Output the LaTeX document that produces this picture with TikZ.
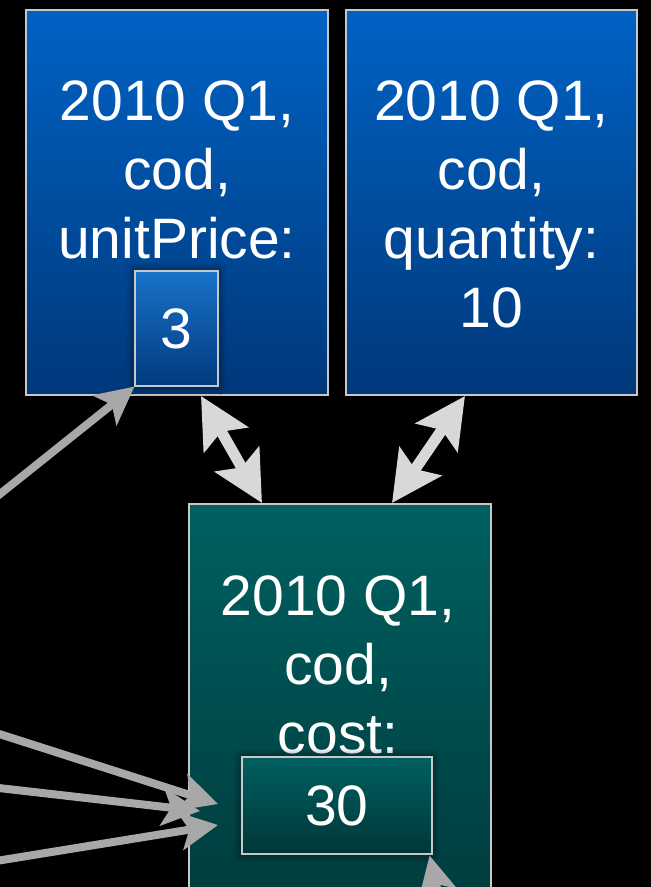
\documentclass[tikz,border=0pt]{standalone}
\usepackage{fontspec}
\setmainfont{Liberation Sans}
\usetikzlibrary{arrows.meta,shadows.blur}

\definecolor{bluetop}{RGB}{0,98,196}
\definecolor{bluebot}{RGB}{0,56,122}
\definecolor{tealtop}{RGB}{0,96,96}
\definecolor{tealbot}{RGB}{0,60,62}
\definecolor{edgegray}{RGB}{200,200,200}
\definecolor{linkgray}{RGB}{168,168,168}
\definecolor{pairgray}{RGB}{216,216,216}

\tikzset{
  cell/.style={draw=edgegray, line width=1.3pt, rectangle, inner sep=0pt},
  bluecell/.style={cell, top color=bluetop, bottom color=bluebot},
  tealcell/.style={cell, top color=tealtop, bottom color=tealbot},
  valuecell/.style={cell, line width=1.1pt,
    blur shadow={shadow xshift=0pt, shadow yshift=0pt, shadow blur radius=9pt,
                 shadow blur steps=10, shadow opacity=65}},
  celltext/.style={text=white, align=center, inner sep=0pt, anchor=north,
    font=\fontsize{57}{69}\selectfont},
  valuetext/.style={text=white, inner sep=0pt, text depth=0pt,
    font=\fontsize{57}{69}\selectfont},
  feed/.style={draw=linkgray, line width=8pt,
    -{Stealth[length=38pt, width=38pt, inset=9pt]}},
  pair/.style={draw=pairgray, line width=11pt,
    {Stealth[length=50pt, width=50pt, inset=9pt]}-{Stealth[length=50pt, width=50pt, inset=9pt]}},
}

\begin{document}
\begin{tikzpicture}[x=1pt, y=-1pt]
  \fill[black] (0,0) rectangle (651,887);
  \useasboundingbox (0,0) rectangle (651,887);

  % unit price cell
  \path[bluecell] (26,10) rectangle (328,395);
  \node[draw=none, minimum width=302pt, minimum height=385pt, inner sep=0pt] (price) at (177,202.5) {};
  \node[celltext] (pricetxt) at (177,80) {2010 Q1,\\cod,\\unitPrice:};
  \node[valuecell, top color=bluetop!90!white, bottom color=bluebot!95!bluetop,
        minimum width=83pt, minimum height=115pt] (priceval) at (176.5,328.5) {};
  \node[valuetext] (pricenum) at (priceval.center) {3};

  % quantity cell
  \path[bluecell] (346,10) rectangle (637,395);
  \node[draw=none, minimum width=291pt, minimum height=385pt, inner sep=0pt] (qty) at (491.5,202.5) {};
  \node[celltext] (qtytxt) at (491.5,80) {2010 Q1,\\cod,\\quantity:\\10};

  % cost cell
  \path[tealcell] (189,504) rectangle (491,900);
  \node[draw=none, minimum width=302pt, minimum height=396pt, inner sep=0pt] (cost) at (340,702) {};
  \node[celltext] (costtxt) at (338,575) {2010 Q1,\\cod,\\cost:};
  \node[valuecell, top color=tealtop, bottom color=tealbot!90!black,
        minimum width=190pt, minimum height=97pt] (costval) at (337,805.5) {};
  \node[valuetext] (costnum) at (costval.center) {30};

  % loose ends of the incoming links
  \coordinate (inA) at (-10,502);
  \coordinate (inB) at (-10,731);
  \coordinate (inC) at (-10,787);
  \coordinate (inD) at (-10,862);
  \coordinate (inE) at (449,940);
  \coordinate (tipB) at (218,804);
  \coordinate (tipC) at (200,811);
  \coordinate (tipD) at (218,825);

  % incoming links
  \draw[feed] (inA) -- (priceval.south west);
  \draw[feed] (inB) -- (tipB);
  \draw[feed] (inC) -- (tipC);
  \draw[feed] (inD) -- (tipD);
  \draw[feed] (inE) -- ([xshift=-3pt,yshift=-1pt]costval.south east);

  % two-way links between the cells
  \coordinate (pA) at (201,396);
  \coordinate (pB) at (262,503);
  \coordinate (qA) at (465,396);
  \coordinate (qB) at (392,503);
  \draw[pair] (pA) -- (pB);
  \draw[pair] (qA) -- (qB);
\end{tikzpicture}
\end{document}
